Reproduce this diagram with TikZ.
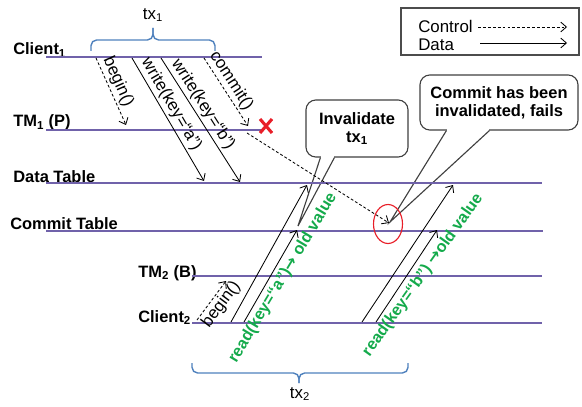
\documentclass[tikz,border=0pt]{standalone}
\usepackage{fontspec}
\setmainfont{Liberation Sans}
\newfontfamily\arrowfont{DejaVu Sans}
\usetikzlibrary{arrows.meta,calc}
\definecolor{lanecol}{RGB}{112,98,170}
\definecolor{bracecol}{RGB}{79,129,189}
\definecolor{readcol}{RGB}{20,170,75}
\definecolor{failcol}{RGB}{232,30,40}
\newcommand{\retarrow}{{\arrowfont\bfseries →}}

\tikzset{
  lane/.style={draw=lanecol, line width=0.9pt},
  lanelbl/.style={font=\fontsize{11.7}{13}\selectfont\bfseries, anchor=base west, inner sep=0pt},
  data/.style={-{Straight Barb[length=4pt,width=7pt]}, line width=0.6pt},
  ctrl/.style={data, dash pattern=on 2pt off 1.5pt},
  tag/.style={sloped, inner sep=1.5pt, pos=0.42},
  readtag/.style={text=readcol, font=\fontsize{11.5}{13}\selectfont\bfseries, inner sep=0pt},
  callbox/.style={draw=black!75, line width=0.8pt, rounded corners=7pt, fill=white, align=center, font=\fontsize{11.7}{13}\selectfont\bfseries},
  ptr/.style={draw=black!75, line width=0.8pt},
  brace/.style={draw=bracecol, line width=1pt, rounded corners=4pt}
}

\begin{document}
\begin{tikzpicture}[x=0.025cm, y=-0.025cm, font=\fontsize{12}{14}\selectfont]
\useasboundingbox (0,0) rectangle (582,406);

% callouts
\node[callbox, minimum width=2.55cm, minimum height=1.425cm] (inv) at (357,128.5) {Invalidate\\tx\textsubscript{1}};
\node[callbox, minimum width=3.95cm, minimum height=1.375cm] (fail) at (499,102.5) {Commit has been\\invalidated, fails};
\coordinate (invTip) at (298,226);
\coordinate (failTip) at (390,222);
\fill[white] ($(inv.south west)+(15.5,-2)$) rectangle ($(inv.south west)+(28.5,2)$);
\draw[ptr] ($(inv.south west)+(15,0)$) -- (invTip) -- ($(inv.south west)+(29,0)$);
\fill[white] ($(fail.south west)+(27.5,-2)$) rectangle ($(fail.south west)+(69.5,2)$);
\draw[ptr] ($(fail.south west)+(27,0)$) -- (failTip) -- ($(fail.south west)+(70,0)$);

% legend
\node[draw=black!70, line width=0.8pt, minimum width=4.45cm, minimum height=1.175cm, inner sep=0pt] (legend) at (490,31.5) {};
\node[anchor=base west, inner sep=0pt] (ctrlTxt) at (418,33) {Control};
\node[anchor=base west, inner sep=0pt] (dataTxt) at (418,51) {Data};
\coordinate (ctrlA) at (478,27);
\coordinate (ctrlB) at (567,27);
\coordinate (dataA) at (480,43);
\coordinate (dataB) at (567,43);
\draw[ctrl] (ctrlA) -- (ctrlB);
\draw[data] (dataA) -- (dataB);

% lanes
\foreach \n/\l/\x/\y/\ly/\s/\e in{
c1/{Client\textsubscript{1}}/13/55/57/46/262,
tm1/{TM\textsubscript{1} (P)}/13/127/130/46/262,
dt/{Data Table}/13/182/183/46/542,
ct/{Commit Table}/10/229/231/46/543,
tm2/{TM\textsubscript{2} (B)}/138/277/276/192/542,
c2/{Client\textsubscript{2}}/138/322/323/192/542
}
{
    \node[lanelbl] (\n) at (\x,\y) {\l};
    \coordinate (\n-w) at (\s,\ly);
    \coordinate (\n-e) at (\e,\ly);
    \draw[lane] (\n-w) -- (\n-e);
}

% message end points
\foreach \n/\x/\y in{
b1s/96/58, b1e/126/125,
wa1s/132/58, wa1e/204/181,
wb1s/161/58, wb1e/240/182,
cm1s/204/58, cm1e/248/126,
fls/247/133, fle/389/223,
b2s/197/320, b2e/226/281,
ra1s/231/322, ra1e/307/185,
ra2s/244/322, ra2e/297/230,
rb1s/362/322, rb1e/453/185,
rb2s/376/322, rb2e/437/230
}
{
    \coordinate (\n) at (\x,\y);
}

\draw[ctrl] (b1s) -- node[tag, above] {begin()} (b1e);
\draw[data] (wa1s) -- node[tag, above] {write(key=“a”)} (wa1e);
\draw[data] (wb1s) -- node[tag, above] {write(key=“b”)} (wb1e);
\draw[ctrl] (cm1s) -- node[tag, above] {commit()} (cm1e);
\draw[ctrl] (fls) -- (fle);
\draw[ctrl] (b2s) -- node[tag, below, pos=0.55] {begin()} (b2e);
\draw[data] (ra1s) -- (ra1e);
\draw[data] (ra2s) -- (ra2e);
\draw[data] (rb1s) -- (rb1e);
\draw[data] (rb2s) -- (rb2e);

\node[readtag, rotate=59] (readA) at (283,278) {read(key=“a”)\retarrow\ old value};
\node[readtag, rotate=54.5] (readB) at (423,275) {read(key=“b”)\ \retarrow old value};

% failure marks
\coordinate (cross) at (266,126);
\draw[failcol, line width=2.2pt] ($(cross)+(-6,-7)$) -- ($(cross)+(6,7)$)
  ($(cross)+(6,-7)$) -- ($(cross)+(-6,7)$);
\draw[failcol, line width=0.8pt] (388,224) ellipse [x radius=14.5, y radius=19.5];

% transactions
\draw[brace] (91,51) |- (153,40) -- (153,28);
\draw[brace] (215,51) |- (153,40) -- (153,28);
\node (tx1) at (153,15) {tx\textsubscript{1}};
\draw[brace] (192,363) |- (299,373) -- (299,383);
\draw[brace] (408,363) |- (299,373) -- (299,383);
\node (tx2) at (300,394) {tx\textsubscript{2}};
\end{tikzpicture}
\end{document}
